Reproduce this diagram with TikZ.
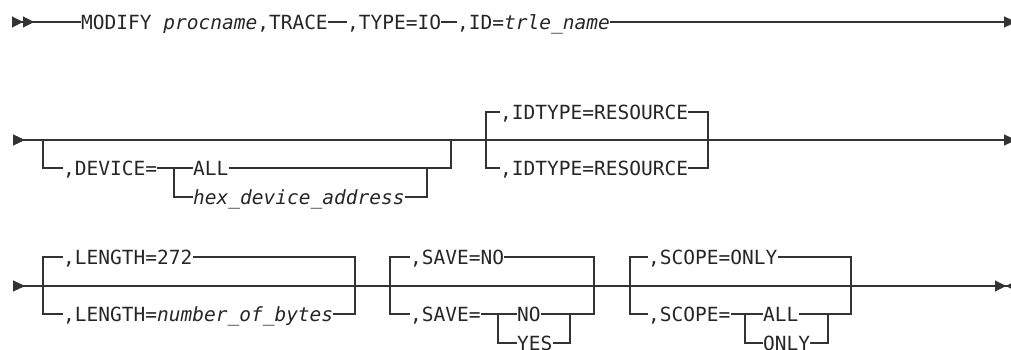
\documentclass[tikz,border=0pt]{standalone}
\usepackage{fontspec}
\newfontfamily\railfont{DejaVu Sans Mono}
\usetikzlibrary{arrows.meta}

\tikzset{
  rail/.style={line width=1.1pt, draw=black!80},
  kw/.style={font={\railfont\fontsize{19.5pt}{22pt}\selectfont}, text=black!85,
    inner sep=0pt, text height=14.2pt, text depth=0pt, anchor=west},
}

\begin{document}
\begin{tikzpicture}[x=1pt, y=-1pt]
    \useasboundingbox (0,0) rectangle (1011,350);

    % first line
    \node[kw] (modify) at (81,22) {MODIFY \textit{procname},TRACE};
    \node[kw] (type) at (347,22) {,TYPE=IO};
    \node[kw] (id) at (457,22) {,ID=\textit{trle\_name}};
    \coordinate (r1a) at (12,22);
    \coordinate (r1b) at (1016,22);
    \draw[rail, {Triangle[reversed,length=11pt,width=11pt]Triangle[reversed,length=11pt,width=11pt]}-] (r1a) -- (modify.west);
    \draw[rail] (modify.east) -- (type.west);
    \draw[rail] (type.east) -- (id.west);
    \draw[rail, -{Triangle[length=12pt,width=11pt]}] (id.east) -- (r1b);

    % second line
    \coordinate (r2a) at (13,140);
    \coordinate (r2b) at (1016,140);
    \draw[rail, {Triangle[reversed,length=12pt,width=11pt]}-{Triangle[length=12pt,width=11pt]}] (r2a) -- (r2b);

    % DEVICE
    \node[kw] (device) at (63,168) {,DEVICE=};
    \node[kw] (all) at (193,168) {ALL};
    \node[kw] (hex) at (193,197) {\textit{hex\_device\_address}};
    \coordinate (dvL) at (43,140);
    \coordinate (dvR) at (451,140);
    \coordinate (dvS) at (174,168);
    \coordinate (dvT) at (427,168);
    \draw[rail] (dvL) |- (device.west);
    \draw[rail] (device.east) -- (all.west);
    \draw[rail] (all.east) -| (dvR);
    \draw[rail] (dvS) |- (hex.west);
    \draw[rail] (hex.east) -| (dvT);

    % IDTYPE
    \node[kw] (idt1) at (500,112) {,IDTYPE=RESOURCE};
    \node[kw] (idt2) at (500,168) {,IDTYPE=RESOURCE};
    \coordinate (itL) at (486,140);
    \coordinate (itR) at (708,140);
    \draw[rail] (idt1.west) -| (itL) |- (idt2.west);
    \draw[rail] (idt1.east) -| (itR) |- (idt2.east);

    % third line
    \coordinate (r3a) at (13,286);
    \coordinate (r3b) at (1011,286);
    \draw[rail, {Triangle[reversed,length=12pt,width=11pt]}-{Triangle[length=11pt,width=11pt]Triangle[reversed,length=5pt,width=5pt]}] (r3a) -- (r3b);

    % LENGTH
    \node[kw] (len1) at (63,257) {,LENGTH=272};
    \node[kw] (len2) at (63,314) {,LENGTH=\textit{number\_of\_bytes}};
    \coordinate (lnL) at (43,286);
    \coordinate (lnR) at (355,286);
    \draw[rail] (len1.west) -| (lnL) |- (len2.west);
    \draw[rail] (len1.east) -| (lnR) |- (len2.east);

    % SAVE
    \node[kw] (sav1) at (410,257) {,SAVE=NO};
    \node[kw] (sav2) at (410,314) {,SAVE=};
    \node[kw] (savno) at (517,314) {NO};
    \node[kw] (savyes) at (517,343) {YES};
    \coordinate (svL) at (390,286);
    \coordinate (svR) at (594,286);
    \coordinate (svS) at (498,314);
    \coordinate (svT) at (570,314);
    \draw[rail] (sav1.west) -| (svL) |- (sav2.west);
    \draw[rail] (sav1.east) -| (svR) |- (savno.east);
    \draw[rail] (sav2.east) -- (savno.west);
    \draw[rail] (svS) |- (savyes.west);
    \draw[rail] (savyes.east) -| (svT);

    % SCOPE
    \node[kw] (scp1) at (648,257) {,SCOPE=ONLY};
    \node[kw] (scp2) at (648,314) {,SCOPE=};
    \node[kw] (scpall) at (763,314) {ALL};
    \node[kw] (scponly) at (763,343) {ONLY};
    \coordinate (scL) at (630,286);
    \coordinate (scR) at (851,286);
    \coordinate (scS) at (745,314);
    \coordinate (scT) at (828,314);
    \draw[rail] (scp1.west) -| (scL) |- (scp2.west);
    \draw[rail] (scp1.east) -| (scR) |- (scpall.east);
    \draw[rail] (scp2.east) -- (scpall.west);
    \draw[rail] (scS) |- (scponly.west);
    \draw[rail] (scponly.east) -| (scT);
\end{tikzpicture}
\end{document}
